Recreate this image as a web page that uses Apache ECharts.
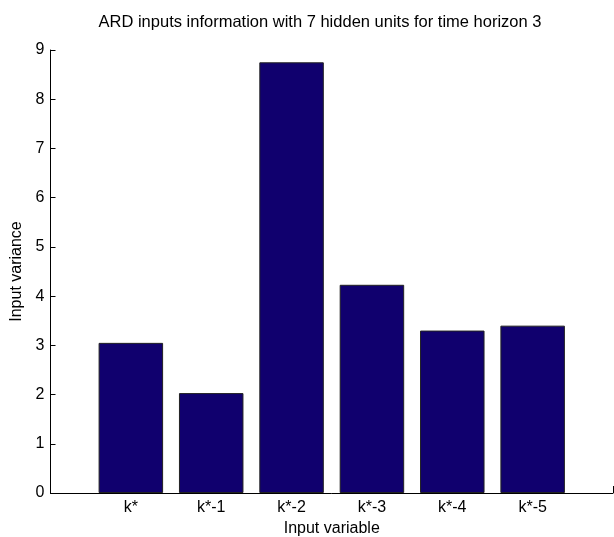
<!DOCTYPE html>
<html>
<head>
<meta charset="utf-8">
<script src="https://cdn.jsdelivr.net/npm/echarts@6/dist/echarts.min.js"></script>
<style>html,body{margin:0;padding:0;background:#fff}#c{width:614px;height:537px}</style>
</head>
<body>
<div id="c"></div>
<script>
const categories = ["k*", "k*-1", "k*-2", "k*-3", "k*-4", "k*-5"];
const values = [3.05, 2.03, 8.75, 4.23, 3.30, 3.40];
const yTicks = [0, 1, 2, 3, 4, 5, 6, 7, 8, 9];

const FONT = "'Liberation Sans', Arial, sans-serif";
const chart = echarts.init(document.getElementById('c'), null, {renderer: 'canvas'});
chart.setOption({
  animation: false,
  backgroundColor: '#fff',
  title: {
    text: 'ARD inputs information with 7 hidden units for time horizon 3',
    left: 315, textAlign: 'center', top: 9,
    textStyle: {fontFamily: FONT, fontSize: 16.5, fontWeight: 'normal', color: '#000'}
  },
  grid: {left: 50.5, right: 1, top: 50, bottom: 44, containLabel: false, outerBoundsMode: 'none'},
  xAxis: {
    type: 'value', min: 0, max: 7, interval: 1,
    name: 'Input variable', nameLocation: 'middle', nameGap: 26,
    nameTextStyle: {fontFamily: FONT, fontSize: 16, color: '#000'},
    axisLine: {show: true, onZero: false, lineStyle: {color: '#000', width: 1}},
    axisTick: {show: true, inside: true, length: 7, lineStyle: {color: '#000'}},
    splitLine: {show: false},
    axisLabel: {
      fontFamily: FONT, fontSize: 16, color: '#000', margin: 7,
      formatter: v => (v >= 1 && v <= categories.length) ? categories[v - 1] : ''
    }
  },
  yAxis: {
    type: 'value', min: yTicks[0], max: yTicks[yTicks.length - 1], interval: 1,
    name: 'Input variance', nameLocation: 'middle', nameGap: 25, nameRotate: 90,
    nameTextStyle: {fontFamily: FONT, fontSize: 16, color: '#000'},
    axisLine: {show: true, lineStyle: {color: '#000', width: 1}},
    axisTick: {show: true, inside: true, length: 5, lineStyle: {color: '#000'}},
    splitLine: {show: false},
    axisLabel: {fontFamily: FONT, fontSize: 16, color: '#000', margin: 6}
  },
  series: [{
    type: 'bar',
    data: values.map((v, i) => [i + 1, v]),
    barWidth: 64.5,
    itemStyle: {color: '#10006E', borderColor: '#222', borderWidth: 1}
  }]
});
</script>
</body>
</html>
